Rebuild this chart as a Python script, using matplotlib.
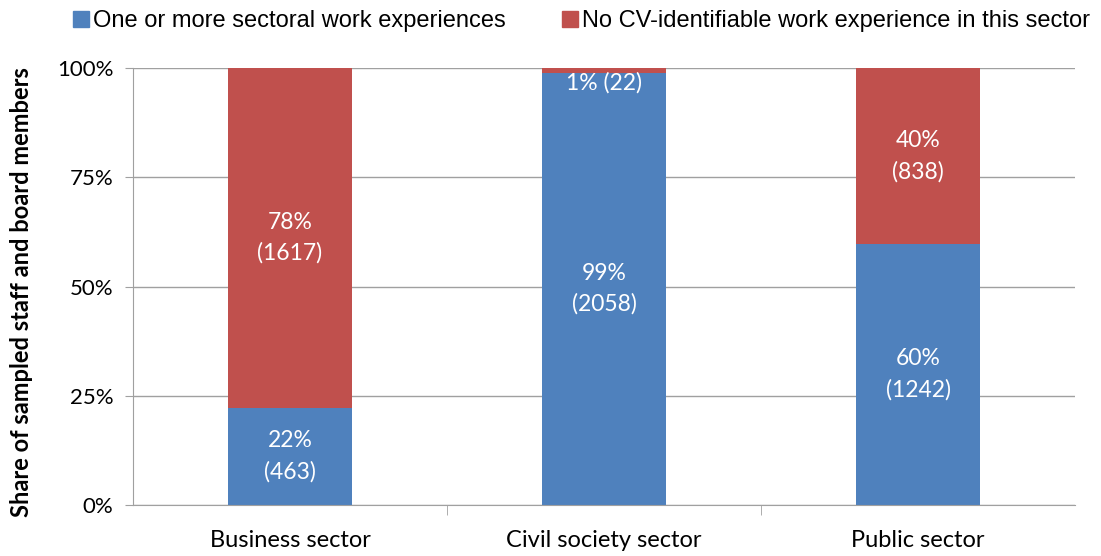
import matplotlib.pyplot as plt
from matplotlib.lines import Line2D

sectors = ['Business sector', 'Civil society sector', 'Public sector']
with_exp = [463, 2058, 1242]
without_exp = [1617, 22, 838]
series_names = ['One or more sectoral work experiences',
                'No CV-identifiable work experience in this sector']
blue = '#4F81BD'
red = '#C0504D'
grey = '#A0A0A0'

totals = [a + b for a, b in zip(with_exp, without_exp)]
share_with = [a / t * 100 for a, t in zip(with_exp, totals)]
share_without = [b / t * 100 for b, t in zip(without_exp, totals)]

fig = plt.figure(figsize=(11.01, 5.56), dpi=100)
ax = fig.add_axes([0.1208, 0.0917, 0.8556, 0.786])

x = range(len(sectors))
ax.bar(x, share_with, width=0.395, color=blue, zorder=2)
ax.bar(x, share_without, width=0.395, bottom=share_with, color=red, zorder=2)

lab_font = 'Lato'
for i in x:
    pw, pn = share_with[i], share_without[i]
    ax.text(i, pw / 2, '%d%%\n(%d)' % (round(pw), with_exp[i]), ha='center', va='center',
            color='white', fontsize=16.5, family=lab_font, linespacing=1.55, zorder=3)
    if pn > 5:
        ax.text(i, pw + pn / 2, '%d%%\n(%d)' % (round(pn), without_exp[i]), ha='center',
                va='center', color='white', fontsize=16.5, family=lab_font, linespacing=1.55, zorder=3)
    else:
        ax.text(i, 100 - pn - 2.3, '%d%% (%d)' % (round(pn), without_exp[i]), ha='center',
                va='center', color='white', fontsize=16.5, family=lab_font, zorder=3)

ax.set_xlim(-0.5, len(sectors) - 0.5)
ax.set_ylim(0, 100)
ax.set_yticks([0, 25, 50, 75, 100])
ax.set_yticklabels(['0%', '25%', '50%', '75%', '100%'], family=lab_font, fontsize=16)
ax.yaxis.grid(True, color=grey, linewidth=1, zorder=0)
ax.set_xticks(list(x))
ax.set_xticklabels(sectors, family=lab_font, fontsize=17)
ax.set_xticks([0.5, 1.5], minor=True)
ax.tick_params(axis='x', which='major', length=0, pad=18)
ax.tick_params(axis='x', which='minor', length=7, color=grey)
ax.tick_params(axis='y', length=6, color=grey, pad=8)
for s in ['top', 'right']:
    ax.spines[s].set_visible(False)
for s in ['left', 'bottom']:
    ax.spines[s].set_color(grey)
ax.set_ylabel('Share of sampled staff and board members', family=lab_font,
              fontweight='bold', fontsize=17)
ax.yaxis.set_label_coords(-0.106, 0.487)

handles = [Line2D([], [], marker='s', linestyle='none', markersize=11, color=c)
           for c in (blue, red)]
fig.legend(handles, series_names, loc='upper center', bbox_to_anchor=(0.527, 1.02),
           ncol=2, frameon=False, prop={'family': 'Liberation Sans', 'size': 17},
           handletextpad=0.05, columnspacing=2.3, handlelength=0.9)

fig.savefig('out.png', dpi=100)
